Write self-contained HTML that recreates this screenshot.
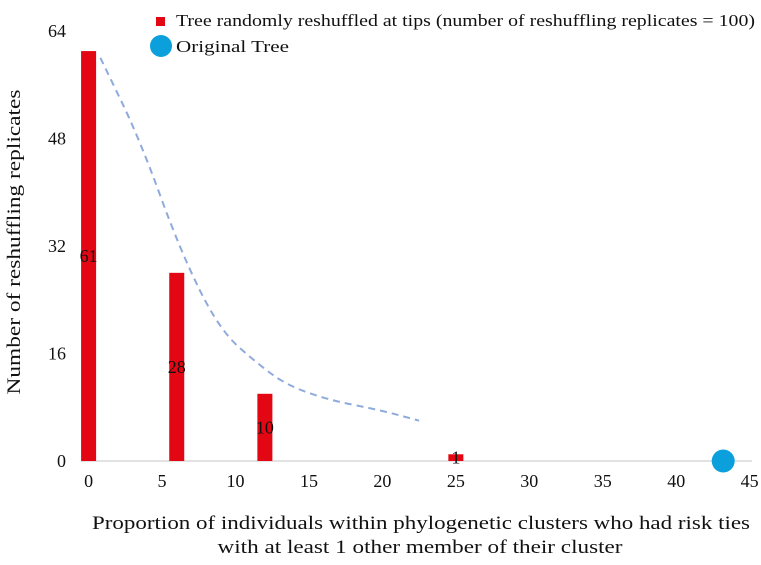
<!DOCTYPE html>
<html><head><meta charset="utf-8"><style>
body{margin:0;background:#fff;width:761px;height:560px;overflow:hidden}
svg{font-family:"Liberation Serif",serif}
</style></head><body>
<svg id="chart" width="761" height="560">
<g id="grid"></g><g id="marks"></g>
<rect x="156" y="17" width="9" height="9" fill="#e30613"/>
<text x="176" y="26" font-size="17" fill="#111" textLength="579" lengthAdjust="spacingAndGlyphs">Tree randomly reshuffled at tips (number of reshuffling replicates = 100)</text>
<circle cx="161" cy="46" r="11" fill="#0ba0dc"/>
<text x="176" y="52" font-size="17" fill="#111" textLength="113" lengthAdjust="spacingAndGlyphs">Original Tree</text>
<text transform="translate(20,242) rotate(-90)" text-anchor="middle" font-size="19" fill="#111" textLength="305" lengthAdjust="spacingAndGlyphs">Number of reshuffling replicates</text>
<text x="421" y="529" text-anchor="middle" font-size="19" fill="#111" textLength="658" lengthAdjust="spacingAndGlyphs">Proportion of individuals within phylogenetic clusters who had risk ties</text>
<text x="420" y="553" text-anchor="middle" font-size="19" fill="#111" textLength="405" lengthAdjust="spacingAndGlyphs">with at least 1 other member of their cluster</text>
</svg>
<script>
const xTicks=[0,5,10,15,20,25,30,35,40,45];
const yTicks=[0,16,32,48,64];
const barX=[0,6,12,25];
const barY=[61,28,10,1];
const trendX=[0.8,3.5,6.2,8.9,11.6,13.5,16.3,19.8,22.5];
const trendY=[60,47.8,31.5,19.5,14.3,11.3,9.1,7.6,6.0];
const origX=[43.2];
const origY=[0];
const sx=v=>88.6+v*14.69;
const sy=v=>461-v*6.72;
const NS="http://www.w3.org/2000/svg";
const g=document.getElementById('grid'),m=document.getElementById('marks');
function el(t,a,p,txt){const e=document.createElementNS(NS,t);for(const k in a)e.setAttribute(k,a[k]);if(txt!==undefined)e.textContent=txt;p.appendChild(e);return e;}
let ax=el('line',{x1:81,x2:752,y1:461,y2:461,stroke:'#d9d9d9','stroke-width':1.5},g);


xTicks.forEach(v=>{const t=el('text',{x:sx(v),y:487,'text-anchor':'middle','font-size':18,fill:'#111'},g,v);

});
yTicks.forEach(v=>{const t=el('text',{x:66,y:sy(v)+6,'text-anchor':'end','font-size':18,fill:'#111'},g,v);

});
barX.forEach((v,i)=>{const b=el('rect',{x:sx(v)-7.5,y:sy(barY[i]),width:15,height:sy(0)-sy(barY[i]),fill:'#e30613'},m);


const l=el('text',{x:sx(v),y:(sy(barY[i])+sy(0))/2+6,'text-anchor':'middle','font-size':18,fill:'#111'},m,barY[i]);

});
let d='';for(let i=0;i<trendX.length;i++){const x=sx(trendX[i]),y=sy(trendY[i]);
if(i==0)d='M'+x+','+y;else{const px=sx(trendX[i-1]),py=sy(trendY[i-1]);const mx=(px+x)/2;d+=' Q'+px+','+py+' '+mx+','+(py+y)/2;}}
d+=' L'+sx(trendX[trendX.length-1])+','+sy(trendY[trendY.length-1]);
const tl=el('path',{d:d,fill:'none',stroke:'#8faadc','stroke-width':2,'stroke-dasharray':'7,5'},m);


origX.forEach((v,i)=>{const c=el('circle',{cx:sx(v),cy:sy(origY[i]),r:11.5,fill:'#0ba0dc'},m);

});
</script>
</body></html>
